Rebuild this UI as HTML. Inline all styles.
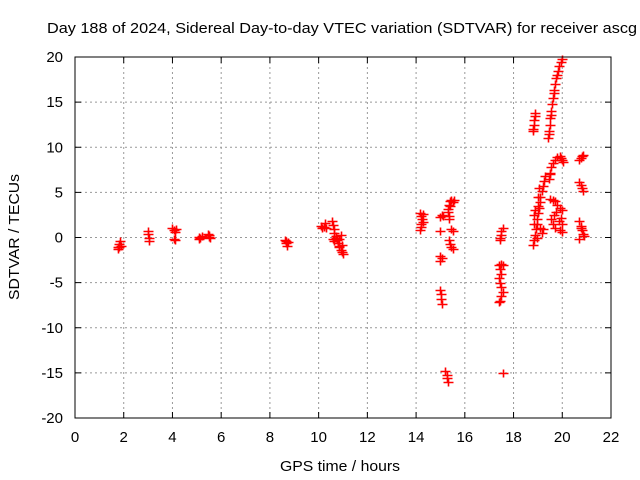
<!DOCTYPE html>
<html><head><meta charset="utf-8"><style>
body{margin:0;background:#fff;}
svg{display:block;font-family:"Liberation Sans",sans-serif;}
</style></head><body>
<svg id="chart" width="640" height="480">
<text x="47" y="33" font-size="15" textLength="590" lengthAdjust="spacingAndGlyphs">Day 188 of 2024, Sidereal Day-to-day VTEC variation (SDTVAR) for receiver ascg</text>
<text x="340" y="471" font-size="15" textLength="120" lengthAdjust="spacingAndGlyphs" text-anchor="middle">GPS time / hours</text>
<text x="0" y="0" font-size="15" textLength="126" lengthAdjust="spacingAndGlyphs" text-anchor="middle" transform="translate(19,237) rotate(-90)">SDTVAR / TECUs</text>
<g id="grid"></g><g id="pts"></g>
<rect x="75" y="57" width="536" height="361" fill="none" stroke="#000" stroke-width="1"/>
</svg>
<script>
const xTicks=[0,2,4,6,8,10,12,14,16,18,20,22];
const yTicks=[-20,-15,-10,-5,0,5,10,15,20];
const timeHours=[1.75,1.8,1.8,1.85,1.75,1.9,
3.0,3.0,3.02,3.05,
4.0,4.05,4.1,4.05,4.1,4.15,
5.1,5.15,5.2,5.1,
5.45,5.5,5.55,5.5,
8.6,8.65,8.7,8.65,8.75,
10.1,10.15,10.2,10.25,10.3,
10.55,10.6,10.62,10.65,10.7,10.72,10.75,10.8,10.82,10.85,10.9,10.95,11.0,10.6,10.65,10.9,10.85,10.95,
14.15,14.2,14.25,14.3,14.2,14.15,14.3,14.2,
15.0,15.05,15.0,15.0,15.05,15.0,15.0,15.02,15.03,15.05,15.1,
15.2,15.25,15.25,15.3,
15.3,15.35,15.4,15.45,15.5,15.55,15.4,15.3,15.35,15.45,15.5,15.35,15.4,15.45,15.5,15.35,
17.45,17.48,17.5,17.55,17.45,17.4,17.45,17.5,17.42,17.45,17.5,17.55,17.5,17.45,17.4,17.55,17.5,17.55,
18.8,18.83,18.85,18.88,18.9,18.8,
18.8,18.85,18.9,18.92,18.95,18.98,19.0,19.05,19.08,19.1,19.15,19.2,19.25,19.3,18.85,18.85,18.9,19.0,19.05,19.1,19.15,19.2,18.95,19.0,
19.42,19.45,19.48,19.5,19.55,19.58,19.62,19.67,19.72,19.76,19.82,19.88,19.95,20.0,19.44,19.53,19.65,19.78,
19.45,19.5,19.55,19.6,19.7,19.8,19.9,19.95,20.0,20.05,19.5,
19.5,19.6,19.7,19.8,19.9,20.0,19.55,19.65,19.75,19.85,19.6,19.9,20.0,19.95,20.0,19.7,
20.7,20.75,20.8,20.85,20.7,20.75,20.8,20.85,20.7,20.75,20.8,20.85,20.9,20.7,20.75];
const vtec=[-1.3,-1.0,-0.7,-0.4,-1.1,-0.9,
0.7,0.4,-0.1,-0.4,
1.0,0.8,0.6,-0.2,-0.3,0.9,
0.1,-0.1,0.2,-0.2,
0.4,0.1,-0.1,0.3,
-0.3,-0.6,-0.9,-0.4,-0.5,
1.3,1.0,1.2,1.6,1.1,
1.8,1.4,0.9,0.5,0.2,-0.1,-0.3,-0.6,-0.9,-1.1,-1.4,-1.6,-1.8,-0.2,-0.4,0.3,-0.2,-0.8,
2.7,2.4,2.0,1.7,1.2,0.8,2.6,1.5,
2.3,2.5,0.7,-2.0,-2.3,-2.6,-5.8,-6.3,-6.8,-7.4,2.4,
-14.8,-15.2,-15.6,-16.0,
3.2,3.6,4.0,4.2,3.9,4.1,3.5,2.8,2.4,0.9,0.7,-0.3,-0.7,-1.0,-1.3,2.0,
0.0,0.3,0.7,1.1,-0.3,-3.0,-3.5,-4.0,-4.5,-5.0,-5.5,-6.0,-6.5,-7.0,-7.2,-3.0,-2.9,-15.0,
12.0,12.5,13.0,13.5,13.8,11.8,
-0.8,-0.3,0.3,0.9,1.5,2.1,2.7,3.3,3.9,4.5,5.1,5.7,6.3,6.8,1.5,2.5,3.0,4.5,5.5,1.0,0.5,0.9,0.0,3.5,
11.0,11.8,12.5,13.2,14.0,14.8,15.5,16.3,17.0,17.7,18.4,19.0,19.5,19.8,11.5,13.6,16.0,18.0,
6.5,7.2,7.8,8.2,8.6,8.9,9.0,8.8,8.6,8.4,7.0,
4.3,4.2,4.0,3.6,3.3,3.0,2.0,2.5,2.8,1.8,1.5,0.8,0.6,2.2,1.5,1.0,
8.6,8.8,9.0,9.1,6.1,5.8,5.5,5.2,1.8,1.3,0.8,0.4,0.2,-0.2,1.0];
const L=75,R=611,T=57,B=418;
const sx=v=>L+(v-0)/22*(R-L);
const sy=v=>B-(v+20)/40*(B-T);
const NS='http://www.w3.org/2000/svg';
const grid=document.getElementById('grid');
function mk(tag,attrs,parent){const e=document.createElementNS(NS,tag);for(const k in attrs)e.setAttribute(k,attrs[k]);parent.appendChild(e);return e;}
xTicks.forEach(t=>{
  const x=sx(t);
  if(t>0&&t<22){const g=mk('line',{x1:x,x2:x,y1:T,y2:B,stroke:'#999','stroke-dasharray':'2,3'},grid);
  
  }
  mk('line',{x1:x,x2:x,y1:B,y2:B-6,stroke:'#000'},grid);
  mk('line',{x1:x,x2:x,y1:T,y2:T+6,stroke:'#000'},grid);
  const tx=mk('text',{x:x,y:B+24,'font-size':15,'text-anchor':'middle'},grid);
  tx.textContent=t;
  
  
});
yTicks.forEach(t=>{
  const y=sy(t);
  if(t>-20&&t<20){const g=mk('line',{x1:L,x2:R,y1:y,y2:y,stroke:'#999','stroke-dasharray':'2,3'},grid);
  
  }
  mk('line',{x1:L,x2:L+6,y1:y,y2:y,stroke:'#000'},grid);
  mk('line',{x1:R,x2:R-6,y1:y,y2:y,stroke:'#000'},grid);
  const tx=mk('text',{x:L-12,y:y+5,'font-size':15,'text-anchor':'end'},grid);
  tx.textContent=t;
  
  
});
const pts=document.getElementById('pts');
timeHours.forEach((h,i)=>{
  const x=Math.round(sx(h))+0.5,y=Math.round(sy(vtec[i]))+0.5;
  const p=mk('path',{d:`M${x-5},${y}H${x+5}M${x},${y-4}V${y+4}`,stroke:'#f00','stroke-width':1.6,fill:'none'},pts);
  
  
});
</script>
</body></html>
